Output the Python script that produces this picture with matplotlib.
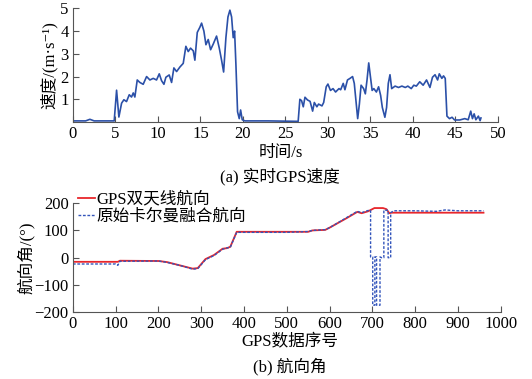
import numpy as np
import matplotlib.pyplot as plt

plt.rcParams['font.family'] = ['Liberation Serif', 'Noto Sans CJK SC', 'DejaVu Serif']
plt.rcParams['axes.unicode_minus'] = True

# (a) GPS speed, time in s, speed in m/s
t_speed = [0, 1.5, 2.0, 2.5, 4.86, 5.14, 5.41, 5.73, 6.0, 6.31, 6.63, 6.9, 7.1, 7.29, 7.57,
           7.88, 8.27, 8.67, 9.06, 9.45, 9.84, 10.16, 10.43, 10.71, 10.94, 11.33, 11.61,
           11.88, 12.2, 12.59, 12.98, 13.29, 13.57, 13.84, 14.16, 14.35, 14.63, 14.94,
           15.14, 15.41, 15.65, 15.92, 16.2, 16.51, 16.9, 17.22, 17.49, 17.73, 18.0, 18.24,
           18.47, 18.67, 18.86, 19.02, 19.18, 19.37, 19.57, 19.73, 19.92, 20.24, 23.0,
           26.5, 26.7, 26.9, 27.1, 27.3, 27.6, 27.9, 28.2, 28.4, 28.7, 28.9, 29.3, 29.5,
           29.8, 30.0, 30.3, 30.6, 30.9, 31.3, 31.5, 31.8, 32.0, 32.3, 32.6, 32.9, 33.1,
           33.4, 33.5, 33.7, 33.9, 34.2, 34.4, 34.6, 34.8, 35.0, 35.2, 35.4, 35.7, 35.96,
           36.2, 36.4, 36.7, 36.9, 37.1, 37.3, 37.5, 37.9, 38.3, 38.7, 39.1, 39.4, 39.8,
           40.1, 40.4, 40.8, 41.2, 41.6, 42.0, 42.3, 42.6, 42.9, 43.1, 43.4, 43.6, 43.8,
           44.0, 44.3, 44.6, 44.9, 45.5, 46.1, 46.5, 46.8, 47.0, 47.2, 47.4, 47.7, 47.9, 48.0]
speed = [0.05, 0.05, 0.12, 0.05, 0.05, 1.4, 0.22, 0.83, 0.98, 0.9, 1.2, 1.1, 1.28, 1.1, 1.85,
         1.74, 1.66, 2.0, 1.85, 1.92, 1.85, 2.12, 1.82, 1.66, 1.97, 2.07, 1.74,
         2.38, 2.22, 2.42, 2.58, 3.33, 3.1, 3.25, 3.13, 2.72, 3.94, 4.17,
         4.35, 4.0, 3.4, 3.63, 3.18, 3.43, 3.78, 3.25, 2.72, 2.2, 3.71, 4.62,
         4.92, 4.62, 3.71, 4.0, 2.5, 0.45, 0.15, 0.53, 0.1, 0.05, 0.05,
         0.03, 1.0, 0.94, 0.67, 1.09, 0.97, 0.91, 0.48, 0.86, 0.67, 0.79, 0.71, 0.86,
         1.55, 1.67, 1.39, 1.47, 1.32, 1.47, 1.42, 1.7, 1.42, 1.85, 1.92, 2.0, 1.7,
         0.56, 0.15, 0.79, 1.62, 1.47, 1.24, 1.85, 2.6, 2.0, 1.39, 1.47, 1.32, 1.55,
         1.17, 0.64, 0.21, 0.64, 1.7, 2.08, 1.47, 1.58, 1.52, 1.58, 1.52, 1.58, 1.47,
         1.62, 1.58, 1.77, 1.62, 1.85, 1.52, 1.97, 2.08, 1.85, 2.12, 1.92, 2.03, 1.92,
         0.26, 0.15, 0.21, 0.09, 0.09, 0.15, 0.1, 0.48, 0.15, 0.36, 0.1, 0.26, 0.06, 0.18]

# (b) heading, sample index vs degrees
n_gps = [0, 105, 110, 200, 220, 250, 280, 292, 310, 330, 350, 360, 368, 383, 550, 560,
         590, 600, 640, 665, 675, 690, 700, 705, 725, 733, 740, 745, 960]
hdg_gps = [-15, -15, -11, -12, -16, -28, -40, -38, -5, 10, 33, 35, 40, 95, 95, 100,
           102, 110, 145, 168, 163, 170, 178, 182, 182, 178, 163, 165, 165]

n_kf = [0, 100, 105, 110, 200, 220, 250, 280, 292, 310, 330, 350, 360, 368, 383, 500,
        550, 560, 590, 600, 640, 665, 675, 690, 696, 696, 701, 701, 706, 706, 710, 710,
        718, 718, 722, 727, 727, 737, 737, 743, 743, 750, 800, 850, 870, 900, 960]
hdg_kf = [-23, -23, -28, -13, -12, -17, -28, -42, -40, -7, 8, 31, 36, 38, 93, 93,
          96, 100, 103, 110, 147, 170, 165, 173, 174, 3, 3, -174, -174, 3, 3, -174,
          -174, 3, 0, 0, 174, 174, 0, 0, 165, 172, 172, 170, 175, 172, 172]

fig = plt.figure(figsize=(5.32, 3.79), dpi=100)
spine_col = '#555555'

ax1 = fig.add_axes([0.137, 0.678, 0.799, 0.30])
ax1.plot(t_speed, speed, color='#2b50a8', lw=1.2)
ax1.set_xlim(0, 50)
ax1.set_ylim(0, 5)
ax1.set_xticks(np.arange(0, 51, 5))
ax1.set_yticks([1, 2, 3, 4, 5])
ax1.set_ylabel('速度/(m·s⁻¹)', fontsize=12, labelpad=2)

ax2 = fig.add_axes([0.137, 0.176, 0.804, 0.288])
ax2.plot(n_gps, hdg_gps, color='#e8262b', lw=1.3, label='GPS双天线航向')
ax2.plot(n_kf, hdg_kf, color='#3355bb', lw=1.0, ls=(0, (2, 1.2)), label='原始卡尔曼融合航向')
ax2.set_xlim(0, 1000)
ax2.set_ylim(-200, 200)
ax2.set_xticks(np.arange(0, 1001, 100))
ax2.set_yticks(np.arange(-200, 201, 100))
ax2.set_ylabel('航向角/(°)', fontsize=12, labelpad=0)
ax2.legend(loc='upper left', bbox_to_anchor=(0.0, 1.15), frameon=False, fontsize=12,
           handlelength=1.0, handletextpad=0.1, borderpad=0.1, labelspacing=0.05,
           borderaxespad=0.2)

for ax in (ax1, ax2):
    for s in ('top', 'right'):
        ax.spines[s].set_visible(False)
    for s in ('left', 'bottom'):
        ax.spines[s].set_color(spine_col)
    ax.tick_params(direction='in', length=4, color=spine_col, labelsize=12, pad=3)

fig.text(0.527, 0.597, '时间/s', ha='center', va='center', fontsize=12)
fig.text(0.527, 0.533, '(a) 实时GPS速度', ha='center', va='center', fontsize=12)
fig.text(0.545, 0.098, 'GPS数据序号', ha='center', va='center', fontsize=12)
fig.text(0.545, 0.032, '(b) 航向角', ha='center', va='center', fontsize=12)

fig.savefig('out.png', dpi=100)
